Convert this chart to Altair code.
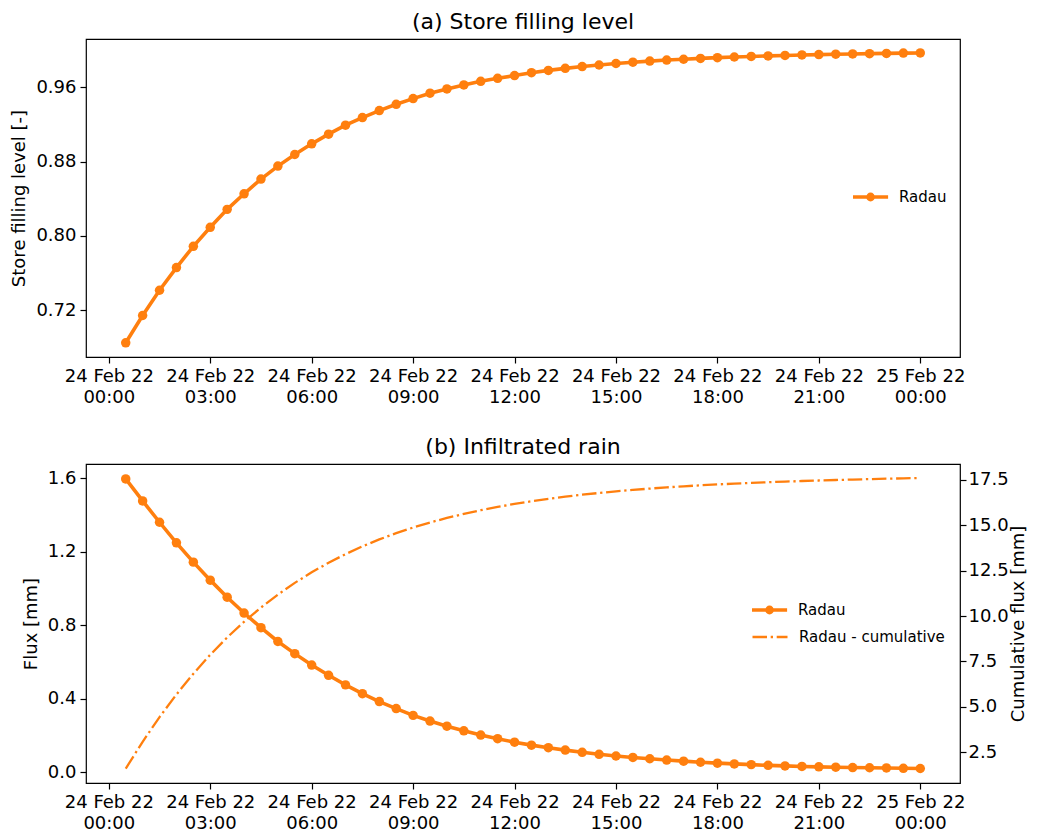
import altair as alt
import pandas as pd

# ---------------- data ----------------
times = pd.date_range("2022-02-24 00:30", periods=48, freq="30min").strftime("%Y-%m-%dT%H:%M:%S").tolist()

store_level = [
    0.6848, 0.7142, 0.7414, 0.7658, 0.7887, 0.8092, 0.8285, 0.8453,
    0.8611, 0.8751, 0.8876, 0.8991, 0.9095, 0.9192, 0.9274, 0.9349,
    0.9417, 0.9478, 0.9536, 0.9582, 0.9625, 0.9664, 0.9697, 0.9726,
    0.9757, 0.9782, 0.9804, 0.9823, 0.9840, 0.9856, 0.9870, 0.9882,
    0.9893, 0.9902, 0.9911, 0.9919, 0.9926, 0.9932, 0.9938, 0.9943,
    0.9948, 0.9952, 0.9956, 0.9959, 0.9962, 0.9965, 0.9968, 0.9970,
]

flux = [
    1.596, 1.476, 1.360, 1.248, 1.143, 1.045, 0.952, 0.866,
    0.786, 0.711, 0.645, 0.583, 0.527, 0.475, 0.427, 0.384,
    0.346, 0.309, 0.278, 0.250, 0.225, 0.202, 0.182, 0.163,
    0.147, 0.133, 0.120, 0.108, 0.097, 0.088, 0.080, 0.073,
    0.066, 0.060, 0.054, 0.049, 0.045, 0.041, 0.037, 0.034,
    0.031, 0.029, 0.027, 0.025, 0.024, 0.023, 0.021, 0.020,
]

flux_cumulative = [
    1.596, 3.072, 4.432, 5.680, 6.823, 7.868, 8.820, 9.686,
    10.472, 11.183, 11.828, 12.411, 12.938, 13.413, 13.840, 14.224,
    14.570, 14.879, 15.157, 15.407, 15.632, 15.834, 16.016, 16.179,
    16.326, 16.459, 16.579, 16.687, 16.784, 16.872, 16.952, 17.025,
    17.091, 17.151, 17.205, 17.254, 17.299, 17.340, 17.377, 17.411,
    17.442, 17.471, 17.498, 17.523, 17.547, 17.570, 17.591, 17.611,
]

tick_hours = [0, 3, 6, 9, 12, 15, 18, 21, 24]
level_ticks = [0.72, 0.80, 0.88, 0.96]
flux_ticks = [0.0, 0.4, 0.8, 1.2, 1.6]
cum_ticks = [2.5, 5.0, 7.5, 10.0, 12.5, 15.0, 17.5]

series_main = "Radau"
series_cum = "Radau - cumulative"

# ---------------- styling ----------------
ORANGE = "#ff7f0e"
FONT = "DejaVu Sans"
PLOT_W = 874
PLOT_H_TOP = 318
PLOT_H_BOT = 319

df = pd.DataFrame({"time": times, "level": store_level, "flux": flux, "cum": flux_cumulative})
df["s1"] = series_main
df["s2"] = series_cum

tick_values = [alt.DateTime(year=2022, month=2, date=24 + h // 24, hours=h % 24) for h in tick_hours]
x_domain = [
    alt.DateTime(year=2022, month=2, date=23, hours=23, minutes=19, seconds=30),
    alt.DateTime(year=2022, month=2, date=25, hours=1, minutes=10, seconds=30),
]

x_enc = alt.X(
    "time:T",
    scale=alt.Scale(domain=x_domain, nice=False),
    axis=alt.Axis(
        values=tick_values,
        labelExpr="[timeFormat(datum.value, '%d %b %y'), timeFormat(datum.value, '%H:%M')]",
        title=None,
        labelLineHeight=21,
        labelFlush=False,
        labelOverlap=False,
    ),
)

# line + dot legend symbol (unit coords scaled by sqrt(size)/2)
DOT_LINE = ("M-1,0L2.9,0M0.65,0A0.3,0.3,0,1,0,1.25,0A0.3,0.3,0,1,0,0.65,0Z")

def radau_legend(lx, ly):
    return alt.Legend(
        title=None, orient="none", legendX=lx, legendY=ly,
        symbolType=DOT_LINE, symbolSize=324, symbolStrokeColor=ORANGE,
        symbolFillColor=ORANGE, symbolStrokeWidth=3.4, symbolOpacity=1,
        labelFont=FONT, labelFontSize=15, labelColor="black",
        labelOffset=26, padding=0,
    )

def color_main(lx, ly):
    return alt.Color(
        "s1:N", scale=alt.Scale(domain=[series_main], range=[ORANGE]), legend=radau_legend(lx, ly)
    )

LINE_W = 3.6
PT_SIZE = 90

# ---------------- (a) store filling level ----------------
y_level = alt.Y(
    "level:Q",
    scale=alt.Scale(domain=[0.6695, 1.012], nice=False, zero=False),
    axis=alt.Axis(values=level_ticks, format=".2f", title="Store filling level [-]",
                  labelPadding=4, titlePadding=7),
)
top_line = alt.Chart(df).mark_line(color=ORANGE, strokeWidth=LINE_W).encode(x=x_enc, y=y_level)
top_pts = alt.Chart(df).mark_point(filled=True, size=PT_SIZE, opacity=1).encode(
    x=x_enc, y=y_level, color=color_main(765, 147)
)
top = alt.layer(top_line, top_pts).properties(
    width=PLOT_W, height=PLOT_H_TOP,
    title=alt.Title("(a) Store filling level", frame="group", offset=5.4),
)

# ---------------- (b) infiltrated rain ----------------
y_flux = alt.Y(
    "flux:Q",
    scale=alt.Scale(domain=[-0.059, 1.677], nice=False, zero=False),
    axis=alt.Axis(values=flux_ticks, format=".1f", title="Flux [mm]", orient="left",
                  labelPadding=4, titlePadding=7),
)
y_cum = alt.Y(
    "cum:Q",
    scale=alt.Scale(domain=[0.80, 18.38], nice=False, zero=False),
    axis=alt.Axis(values=cum_ticks, format=".1f", title="Cumulative flux [mm]", orient="right",
                  titleAngle=270, titleBaseline="top", titlePadding=1, labelPadding=2),
)
flux_line = alt.Chart(df).mark_line(color=ORANGE, strokeWidth=LINE_W).encode(x=x_enc, y=y_flux)
flux_pts = alt.Chart(df).mark_point(filled=True, size=PT_SIZE, opacity=1).encode(
    x=x_enc, y=y_flux, color=color_main(664, 135)
)
cum_line = alt.Chart(df).mark_line(color=ORANGE, strokeWidth=2.3).encode(
    x=x_enc, y=y_cum,
    strokeDash=alt.StrokeDash(
        "s2:N",
        scale=alt.Scale(domain=[series_cum], range=[[14.5, 3.7, 2.3, 3.7]]),
        legend=alt.Legend(
            title=None, orient="none", legendX=665, legendY=154,
            symbolType="stroke", symbolSize=1225, symbolStrokeColor=ORANGE,
            symbolStrokeWidth=2.3, labelFont=FONT, labelFontSize=15, labelColor="black",
            labelOffset=10, padding=0,
        ),
    ),
)
bottom = alt.layer(alt.layer(flux_line, flux_pts), cum_line).resolve_scale(
    y="independent", color="independent", strokeDash="independent"
).properties(
    width=PLOT_W, height=PLOT_H_BOT,
    title=alt.Title("(b) Infiltrated rain", frame="group", offset=5.4),
)

chart = (
    alt.vconcat(top, bottom, spacing=28)
    .properties(padding={"left": 2, "top": 2, "right": 0, "bottom": 0})
    .configure(font=FONT)
    .configure_view(stroke="black", strokeWidth=1.2)
    .configure_axis(
        labelFont=FONT, labelFontSize=18, labelColor="black",
        titleFont=FONT, titleFontSize=18, titleColor="black", titleFontWeight="normal",
        tickColor="black", tickWidth=1.2, tickSize=6, labelPadding=4, titlePadding=9,
        domain=False, grid=False,
    )
    .configure_title(font=FONT, fontSize=22, fontWeight="normal", color="black", anchor="middle")
)

chart.save("out.html", embed_options={"renderer": "svg", "actions": False})
